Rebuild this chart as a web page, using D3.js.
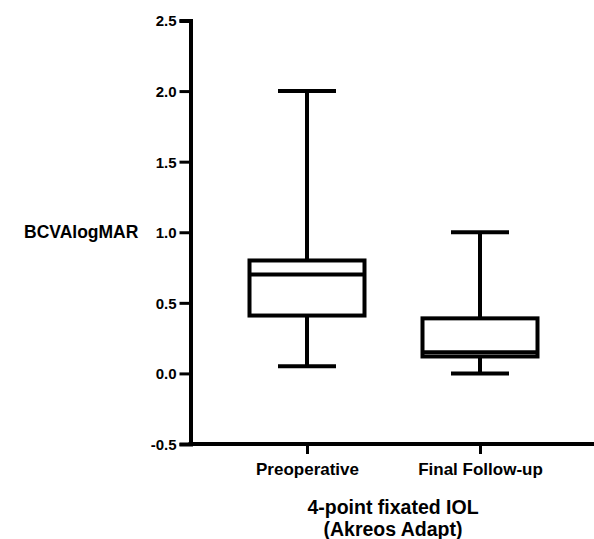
<!DOCTYPE html>
<html>
<head>
<meta charset="utf-8">
<script src="https://cdn.jsdelivr.net/npm/d3@7"></script>
<style>
  body { margin: 0; background: #fff; }
  text { font-family: "Liberation Sans", Arial, sans-serif; font-weight: bold; fill: #000; }
</style>
</head>
<body>
<div id="chart"></div>
<script>
// data
var groups = ["Preoperative", "Final Follow-up"];
var whiskerLow = [0.05, 0.0];
var q1 = [0.41, 0.12];
var median = [0.70, 0.15];
var q3 = [0.80, 0.39];
var whiskerHigh = [2.0, 1.0];
var yTicks = [-0.5, 0.0, 0.5, 1.0, 1.5, 2.0, 2.5];

var svgWidth = 594;
var svgHeight = 539;

var svg = d3.select("#chart")
  .append("svg")
  .attr("width", svgWidth)
  .attr("height", svgHeight);

// scales
var yScale = d3.scaleLinear()
  .domain([-0.5, 2.5])
  .range([444, 20.5]);

var xScale = d3.scalePoint()
  .domain(groups)
  .range([307, 480]);

var axisX = 190.5;
var boxWidth = 115;
var capWidth = 58;
var lw = 4;

// y axis (plain hyphen for the minus sign, like the original)
var yAxis = svg.append("g")
  .attr("transform", `translate(${axisX}, 0)`)
  .call(d3.axisLeft(yScale)
    .tickValues(yTicks)
    .tickFormat(d => d.toFixed(1))
    .tickSizeOuter(0)
    .tickSize(11)
    .tickPadding(3));

yAxis.select(".domain").attr("stroke-width", lw).attr("stroke", "#000");
yAxis.selectAll(".tick line").attr("stroke-width", 3).attr("stroke", "#000");
yAxis.selectAll(".tick text")
  .style("font-size", "15px")
  .attr("dy", "0.36em");

// x axis
var xAxis = svg.append("g")
  .attr("transform", `translate(0, ${yScale(-0.5)})`)
  .call(d3.axisBottom(xScale)
    .tickSize(10)
    .tickSizeOuter(0)
    .tickPadding(9));

xAxis.select(".domain").remove();
xAxis.append("line")
  .attr("x1", axisX - 2)
  .attr("x2", svgWidth)
  .attr("stroke", "#000")
  .attr("stroke-width", lw);
xAxis.selectAll(".tick line").attr("stroke-width", 3).attr("stroke", "#000");
xAxis.selectAll(".tick text").style("font-size", "17px");

// boxes
var boxData = groups.map(function(g, i) {
  return { name: g, lo: whiskerLow[i], q1: q1[i], med: median[i], q3: q3[i], hi: whiskerHigh[i] };
});

var boxes = svg.selectAll(".box")
  .data(boxData)
  .enter()
  .append("g")
  .attr("class", "box")
  .attr("stroke", "#000")
  .attr("stroke-width", lw)
  .attr("fill", "none");

// whiskers
boxes.append("line")
  .attr("x1", d => xScale(d.name))
  .attr("x2", d => xScale(d.name))
  .attr("y1", d => yScale(d.hi))
  .attr("y2", d => yScale(d.q3));

boxes.append("line")
  .attr("x1", d => xScale(d.name))
  .attr("x2", d => xScale(d.name))
  .attr("y1", d => yScale(d.q1))
  .attr("y2", d => yScale(d.lo));

// caps
boxes.append("line")
  .attr("x1", d => xScale(d.name) - capWidth / 2)
  .attr("x2", d => xScale(d.name) + capWidth / 2)
  .attr("y1", d => yScale(d.hi))
  .attr("y2", d => yScale(d.hi));

boxes.append("line")
  .attr("x1", d => xScale(d.name) - capWidth / 2)
  .attr("x2", d => xScale(d.name) + capWidth / 2)
  .attr("y1", d => yScale(d.lo))
  .attr("y2", d => yScale(d.lo));

// box body
boxes.append("rect")
  .attr("x", d => xScale(d.name) - boxWidth / 2)
  .attr("y", d => yScale(d.q3))
  .attr("width", boxWidth)
  .attr("height", d => yScale(d.q1) - yScale(d.q3))
  .attr("fill", "#fff");

// median
boxes.append("line")
  .attr("x1", d => xScale(d.name) - boxWidth / 2)
  .attr("x2", d => xScale(d.name) + boxWidth / 2)
  .attr("y1", d => yScale(d.med))
  .attr("y2", d => yScale(d.med));

// y axis label
svg.append("text")
  .attr("x", 24)
  .attr("y", yScale(1.0) + 6)
  .style("font-size", "17.5px")
  .text("BCVAlogMAR");

// x axis title
var title = svg.append("text")
  .attr("x", 393)
  .attr("text-anchor", "middle")
  .style("font-size", "19.5px");

title.append("tspan").attr("x", 393).attr("y", 514).text("4-point fixated IOL");
title.append("tspan").attr("x", 393).attr("y", 536).text("(Akreos Adapt)");
</script>
</body>
</html>
